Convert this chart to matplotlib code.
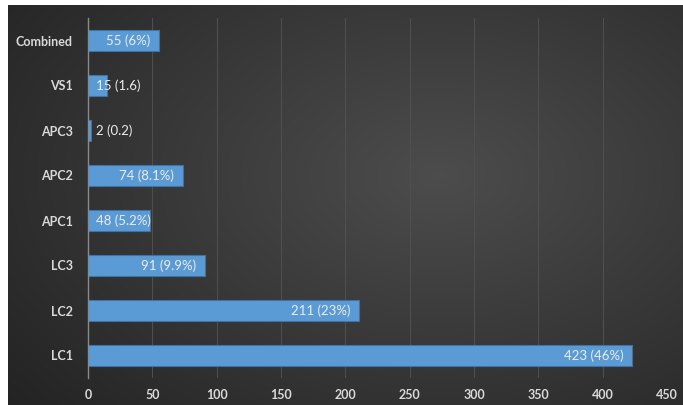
import numpy as np
import matplotlib
matplotlib.use('Agg')
import matplotlib.pyplot as plt

categories = ['LC1', 'LC2', 'LC3', 'APC1', 'APC2', 'APC3', 'VS1', 'Combined']
counts = [423, 211, 91, 48, 74, 2, 15, 55]
bar_labels = ['423 (46%)', '211 (23%)', '91 (9.9%)', '48 (5.2%)', '74 (8.1%)',
              '2 (0.2)', '15 (1.6)', '55 (6%)']
xticks = [0, 50, 100, 150, 200, 250, 300, 350, 400, 450]

plt.rcParams['font.family'] = ['Lato', 'DejaVu Sans']

W, H = 683, 405
fig = plt.figure(figsize=(W / 100, H / 100), dpi=100, facecolor='white')

# dark radial background, leaving a thin white strip top / left
bg = fig.add_axes([8 / W, 0, 1 - 8 / W, 1 - 5 / H])
yy, xx = np.mgrid[0:400, 0:675]
d = np.sqrt(((xx - 430) / 520.0) ** 2 + ((yy - 170) / 330.0) ** 2)
shade = np.clip(0.30 - 0.15 * d, 0.12, 0.30)
bg.imshow(np.dstack([shade, shade, shade]), aspect='auto', interpolation='bilinear')
bg.axis('off')

ax = fig.add_axes([88 / W, 27 / H, (667 - 88) / W, (378 - 18) / H])
ax.patch.set_alpha(0)

y = np.arange(len(categories))
ax.barh(y, counts, height=0.46, color='#5b9bd5', edgecolor='#3f73a6',
        linewidth=0.8, zorder=3)

ax.set_xlim(0, 450)
ax.set_ylim(-0.5, len(categories) - 0.5)
ax.set_xticks(xticks)
ax.set_yticks(y)
ax.set_yticklabels(categories)
ax.tick_params(length=0, colors='#d9d9d9', labelsize=9)
ax.tick_params(axis='x', pad=8)
ax.tick_params(axis='y', pad=11)
for lab in ax.get_xticklabels() + ax.get_yticklabels():
    lab.set_fontweight('bold')

ax.grid(axis='x', color='#505050', linewidth=0.7, zorder=0)
for s in ['top', 'right', 'bottom']:
    ax.spines[s].set_visible(False)
ax.spines['left'].set_color('#8a8a8a')
ax.spines['left'].set_linewidth(1)
ax.spines['left'].set_zorder(4)

fig.canvas.draw()
r = fig.canvas.get_renderer()
px_per_unit = ax.bbox.width / 450
for yi, v, lab in zip(y, counts, bar_labels):
    t = ax.text(0, yi, lab, fontsize=9.5, color='#ececec', va='center', zorder=5)
    tw = t.get_window_extent(r).width
    if v * px_per_unit > tw + 16:
        t.set_x(v - 9 / px_per_unit)
        t.set_ha('right')
    else:
        t.set_x(8 / px_per_unit)
        t.set_ha('left')

fig.savefig('out.png', dpi=100, facecolor='white')
